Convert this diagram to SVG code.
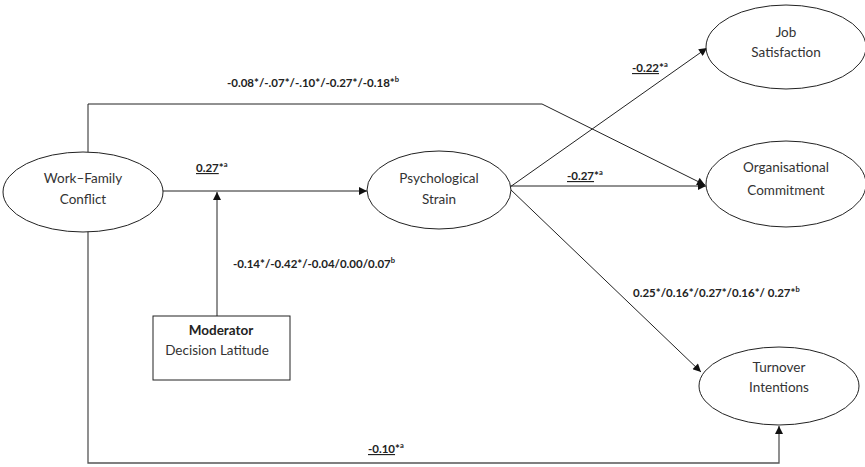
<svg xmlns="http://www.w3.org/2000/svg" width="865" height="467" viewBox="0 0 865 467">
<style>
.node{fill:#fff;stroke:#222;stroke-width:1}
.lbl{font-family:Lato,"Liberation Sans",sans-serif;font-size:13.5px;fill:#333;text-anchor:middle}
.val{font-family:Lato,"Liberation Sans",sans-serif;font-size:11.5px;font-weight:bold;fill:#222}
.sup{font-size:7.5px}
.u{text-decoration:underline}
.ln{fill:none;stroke:#222;stroke-width:1}
</style>
<defs>
<marker id="arr" viewBox="0 0 10 10" refX="10" refY="5" markerWidth="10" markerHeight="8" markerUnits="userSpaceOnUse" orient="auto">
<path d="M0,0 L10,5 L0,10 Z" fill="#111"/>
</marker>
</defs>
<g id="connectors">
<path class="ln" d="M163,191 L367,191" marker-end="url(#arr)"/>
<path class="ln" d="M217,316 L217,192" marker-end="url(#arr)"/>
<path class="ln" d="M88,152 L88,104 L542,104 L705,185" marker-end="url(#arr)"/>
<path class="ln" d="M510,187 L707,48" marker-end="url(#arr)"/>
<path class="ln" d="M510,186 L706,186" marker-end="url(#arr)"/>
<path class="ln" d="M510,189 L701,372" marker-end="url(#arr)"/>
<path class="ln" d="M88,231 L88,463 L779,463 L779,426" style="stroke:#555;stroke-width:1.3" marker-end="url(#arr)"/>
</g>
<g id="labels">
<text class="val" x="196" y="172"><tspan class="u">0.27</tspan>*<tspan class="sup" dy="-5">a</tspan></text>
<text class="val" x="227" y="87">-0.08*/-.07*/-.10*/-0.27*/-0.18*<tspan class="sup" dy="-5">b</tspan></text>
<text class="val" x="233" y="268">-0.14*/-0.42*/-0.04/0.00/0.07<tspan class="sup" dy="-5">b</tspan></text>
<text class="val" x="632" y="72"><tspan class="u">-0.22</tspan>*<tspan class="sup" dy="-5">a</tspan></text>
<text class="val" x="567" y="180"><tspan class="u">-0.27</tspan>*<tspan class="sup" dy="-5">a</tspan></text>
<text class="val" x="633" y="297">0.25*/0.16*/0.27*/0.16*/ 0.27*<tspan class="sup" dy="-5">b</tspan></text>
<text class="val" x="368" y="453"><tspan class="u">-0.10</tspan>*<tspan class="sup" dy="-5">a</tspan></text>
</g>
<g id="wfc">
<ellipse class="node" cx="83" cy="192" rx="80" ry="40"/>
<text class="lbl" x="83" y="183">Work–Family</text>
<text class="lbl" x="83" y="204">Conflict</text>
</g>
<g id="ps">
<ellipse class="node" cx="439" cy="190" rx="72" ry="39"/>
<text class="lbl" x="439" y="183">Psychological</text>
<text class="lbl" x="439" y="204">Strain</text>
</g>
<g id="js">
<ellipse class="node" cx="786" cy="47" rx="80" ry="42"/>
<text class="lbl" x="786" y="37">Job</text>
<text class="lbl" x="786" y="57">Satisfaction</text>
</g>
<g id="oc">
<ellipse class="node" cx="786" cy="184" rx="80" ry="43"/>
<text class="lbl" x="786" y="172">Organisational</text>
<text class="lbl" x="786" y="195">Commitment</text>
</g>
<g id="ti">
<ellipse class="node" cx="779" cy="386" rx="80" ry="39"/>
<text class="lbl" x="779" y="372">Turnover</text>
<text class="lbl" x="779" y="392">Intentions</text>
</g>
<g id="moderator">
<rect class="node" x="153" y="316" width="137" height="64"/>
<text class="lbl" x="221" y="335" style="font-weight:bold;fill:#222">Moderator</text>
<text class="lbl" x="217" y="355">Decision Latitude</text>
</g>
</svg>
